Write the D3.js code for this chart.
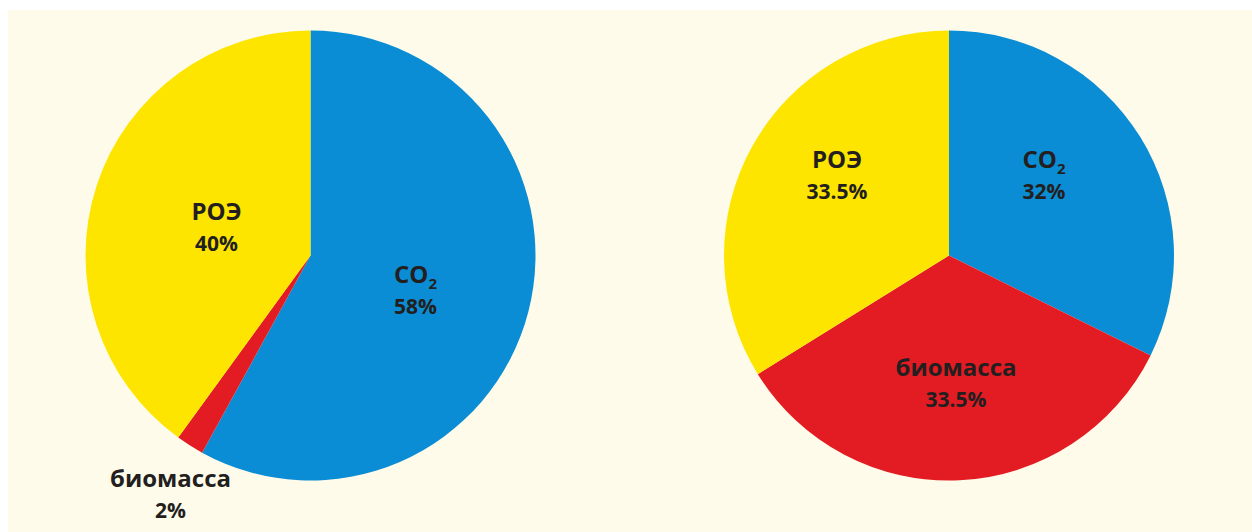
<!DOCTYPE html>
<html>
<head>
<meta charset="utf-8">
<script src="https://cdn.jsdelivr.net/npm/d3@7"></script>
<style>
  html, body { margin: 0; padding: 0; background: #ffffff; }
  svg { display: block; }
  text { font-family: "Open Sans", "DejaVu Sans", sans-serif; font-weight: 700; fill: #231f20; }
</style>
</head>
<body>
<svg id="chart" width="1252" height="532"></svg>
<script>
// Slice order runs clockwise from 12 o'clock
const categories = ["CO2", "биомасса", "РОЭ"];
const valuesLeft = [58, 2, 40];
const valuesRight = [32, 33.5, 33.5];
const percentLabelsLeft = ["58%", "2%", "40%"];
const percentLabelsRight = ["32%", "33.5%", "33.5%"];
const sliceColors = ["#0a8dd4", "#e31c23", "#fde500"];

// Layout: pie centres, radius and label anchors (offsets from the centre)
const radius = 225;
const pies = [
  {
    cx: 310.5, cy: 255.5, values: valuesLeft, pct: percentLabelsLeft,
    labels: [ {dx: 105, dy: 27}, {dx: -140, dy: 231}, {dx: -94, dy: -36} ]
  },
  {
    cx: 949, cy: 255.5, values: valuesRight, pct: percentLabelsRight,
    labels: [ {dx: 95, dy: -88}, {dx: 7, dy: 120}, {dx: -112, dy: -88} ]
  }
];

const svg = d3.select("#chart");

// cream panel
svg.append("rect")
  .attr("x", 8).attr("y", 10)
  .attr("width", 1252 - 8).attr("height", 532 - 10)
  .attr("fill", "#fffbea");

const pie = d3.pie().sort(null).value(d => d);
const arc = d3.arc().innerRadius(0).outerRadius(radius);
const color = d3.scaleOrdinal().domain(categories).range(sliceColors);

pies.forEach(p => {
  const g = svg.append("g").attr("transform", `translate(${p.cx},${p.cy})`);
  const arcs = pie(p.values);

  g.selectAll("path")
    .data(arcs)
    .join("path")
    .attr("d", arc)
    .attr("fill", (d, i) => color(categories[i]));

  categories.forEach((name, i) => {
    const pos = p.labels[i];
    const t = g.append("text")
      .attr("x", pos.dx).attr("y", pos.dy)
      .attr("text-anchor", "middle")
      .style("font-size", "24px");
    if (name === "CO2") {
      t.append("tspan").text("CO");
      t.append("tspan").text("2").style("font-size", "15px").attr("dy", 6);
    } else {
      t.text(name);
    }
    g.append("text")
      .attr("x", pos.dx).attr("y", pos.dy + 31)
      .attr("text-anchor", "middle")
      .style("font-size", "21px")
      .text(p.pct[i]);
  });
});
</script>
</body>
</html>
